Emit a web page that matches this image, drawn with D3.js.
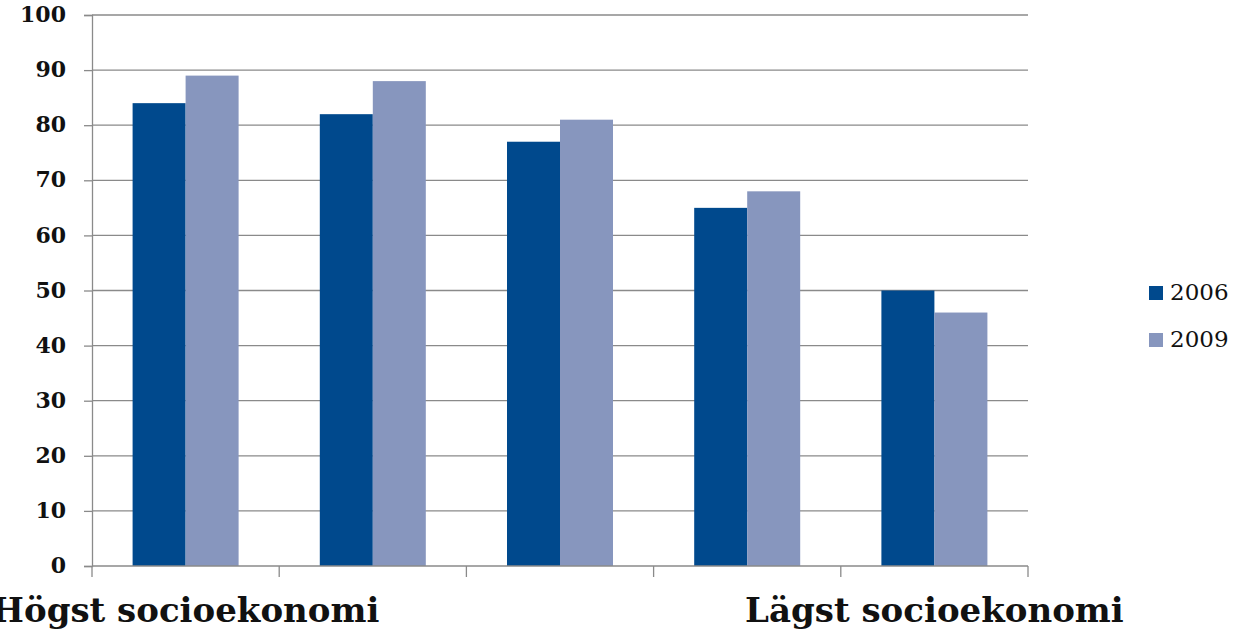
<!DOCTYPE html>
<html>
<head>
<meta charset="utf-8">
<script src="https://cdn.jsdelivr.net/npm/d3@7"></script>
<style>
  html, body { margin: 0; padding: 0; background: #fff; }
  svg { display: block; }
</style>
</head>
<body>
<svg id="chart" width="1243" height="633"></svg>
<script>
// Category groups (only the two extremes carry a label)
const categories = ["Högst socioekonomi", "", "", "", "Lägst socioekonomi"];
const seriesNames = ["2006", "2009"];
const values2006 = [84, 82, 77, 65, 50];
const values2009 = [89, 88, 81, 68, 46];
const yTicks = [0, 10, 20, 30, 40, 50, 60, 70, 80, 90, 100];
const colors = ["#00498D", "#8796BE"];

const serif = "'DejaVu Serif', 'Liberation Serif', serif";
const svg = d3.select("#chart");
const margin = { left: 92, right: 215, top: 15, bottom: 67 };
const W = 1243, H = 633;
const x0 = margin.left, x1 = W - margin.right;
const y0 = H - margin.bottom, y1 = margin.top;

const keys = d3.range(categories.length);
const x = d3.scaleBand().domain(keys).range([x0, x1]).paddingInner(0).paddingOuter(0);
const inner = d3.scaleBand().domain(seriesNames).range([0, x.bandwidth()]).paddingInner(0).paddingOuter(0.766);
const y = d3.scaleLinear().domain([0, 100]).range([y0, y1]);

// Horizontal gridlines
svg.append("g")
  .selectAll("line")
  .data(yTicks.filter(d => d > 0))
  .join("line")
  .attr("x1", x0).attr("x2", x1)
  .attr("y1", d => y(d)).attr("y2", d => y(d))
  .attr("stroke", "#8a8a8a").attr("stroke-width", 1.3);

// Bars
const data = keys.map(i => [values2006[i], values2009[i]]);
const groups = svg.append("g").selectAll("g")
  .data(data)
  .join("g")
  .attr("transform", (d, i) => `translate(${x(i)},0)`);
groups.selectAll("rect")
  .data(d => d.map((v, j) => ({ v, j })))
  .join("rect")
  .attr("x", d => inner(seriesNames[d.j]))
  .attr("width", inner.bandwidth())
  .attr("y", d => y(d.v))
  .attr("height", d => y(0) - y(d.v))
  .attr("fill", d => colors[d.j]);

// Y axis
const yAxis = svg.append("g")
  .attr("transform", `translate(${x0},0)`)
  .call(d3.axisLeft(y).tickValues(yTicks).tickSize(8).tickPadding(18));
yAxis.attr("font-family", serif);
yAxis.select(".domain").attr("stroke", "#8a8a8a").attr("stroke-width", 1.3);
yAxis.selectAll(".tick line").attr("stroke", "#8a8a8a").attr("stroke-width", 1.3);
yAxis.selectAll(".tick text")
  .attr("font-family", serif)
  .attr("font-size", 22).attr("font-weight", "bold").attr("fill", "#111")
  .attr("dy", "0.3em");

// X axis: tick marks at category boundaries
const xAxisG = svg.append("g");
xAxisG.append("line")
  .attr("x1", x0).attr("x2", x1).attr("y1", y0).attr("y2", y0)
  .attr("stroke", "#8a8a8a").attr("stroke-width", 1.3);
const bounds = keys.map(i => x(i)).concat([x1]);
xAxisG.selectAll("line.bound")
  .data(bounds)
  .join("line")
  .attr("class", "bound")
  .attr("x1", d => d).attr("x2", d => d)
  .attr("y1", y0).attr("y2", y0 + 11)
  .attr("stroke", "#8a8a8a").attr("stroke-width", 1.3);
xAxisG.selectAll("text")
  .data(keys)
  .join("text")
  .attr("x", i => x(i) + x.bandwidth() / 2)
  .attr("y", 622)
  .attr("text-anchor", "middle")
  .attr("font-family", serif)
  .attr("font-weight", "bold")
  .attr("font-size", 34)
  .attr("fill", "#111")
  .text(i => categories[i]);

// Legend
const legend = svg.append("g").attr("transform", "translate(1149,286)");
const li = legend.selectAll("g")
  .data(seriesNames)
  .join("g")
  .attr("transform", (d, i) => `translate(0,${i * 47})`);
li.append("rect").attr("width", 14).attr("height", 14).attr("fill", (d, i) => colors[i]);
li.append("text")
  .attr("x", 21).attr("y", 14)
  .attr("font-family", serif)
  .attr("font-size", 23)
  .attr("fill", "#111")
  .text(d => d);
</script>
</body>
</html>
